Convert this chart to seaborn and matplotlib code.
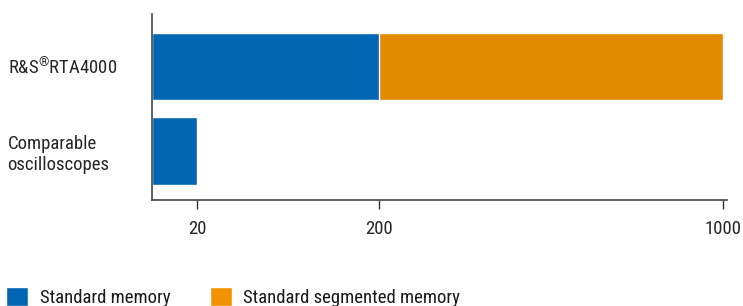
import numpy as np
import pandas as pd
import matplotlib
matplotlib.use("Agg")
import matplotlib.pyplot as plt
from matplotlib.patches import Patch
import seaborn as sns

# Data
devices = ["R&S$^{®}$RTA4000", "Comparable\noscilloscopes"]
standard_memory = [200, 20]
segmented_memory = [1000, 0]
tick_values = [20, 200, 1000]
tick_labels = ["20", "200", "1000"]

blue = "#0066b3"
orange = "#e28a00"
orange_legend = "#f39200"

sns.set_style("white")
plt.rcParams["font.family"] = ["Roboto Condensed", "DejaVu Sans"]
plt.rcParams["mathtext.fontset"] = "custom"
plt.rcParams["mathtext.rm"] = "Roboto Condensed"
plt.rcParams["mathtext.it"] = "Roboto Condensed"
plt.rcParams["mathtext.bf"] = "Roboto Condensed"
plt.rcParams["font.size"] = 13.5
plt.rcParams["text.color"] = "#1a1a1a"

df = pd.DataFrame({"device": devices,
                   "standard": standard_memory,
                   "segmented": segmented_memory})

fig = plt.figure(figsize=(7.43, 3.06), dpi=100)
ax = fig.add_axes([152 / 743, 106 / 306, 575 / 743, 186 / 306])

# the chart uses a non-uniform axis: 0, 20, 200, 1000 at hand-picked spots
brk_v = [0, 20, 200, 1000, 2000]
brk_p = [0, 45, 227, 571, 1001]
fwd = lambda v: np.interp(v, brk_v, brk_p)
inv = lambda p: np.interp(p, brk_p, brk_v)
ax.set_xscale("function", functions=(fwd, inv))

sns.barplot(data=df, x="segmented", y="device", orient="h", color=orange,
            width=0.8, saturation=1, ax=ax)
sns.barplot(data=df, x="standard", y="device", orient="h", color=blue,
            width=0.8, saturation=1, ax=ax)

ax.set_xlim(0, 1009)
ax.set_ylim(1.58, -0.62)
ax.set_xlabel("")
ax.set_ylabel("")
ax.set_xticks(tick_values)
ax.set_xticklabels(tick_labels)
ax.tick_params(axis="x", direction="out", length=6.5, width=1, color="#333333",
               pad=8, bottom=True)
ax.tick_params(axis="y", length=0, pad=104)
for lbl in ax.get_yticklabels():
    lbl.set_horizontalalignment("left")

for s in ["top", "right"]:
    ax.spines[s].set_visible(False)
for s in ["left", "bottom"]:
    ax.spines[s].set_color("#444444")
    ax.spines[s].set_linewidth(1.2)

handles = [Patch(facecolor=blue, label="Standard memory"),
           Patch(facecolor=orange_legend, label="Standard segmented memory")]
fig.legend(handles=handles, loc="center left", bbox_to_anchor=(6 / 743, 9 / 306),
           ncol=2, frameon=False, borderpad=0, borderaxespad=0,
           handlelength=1.2, handleheight=1.2, handletextpad=0.6,
           columnspacing=2.1)

fig.savefig("out.png", dpi=100)
